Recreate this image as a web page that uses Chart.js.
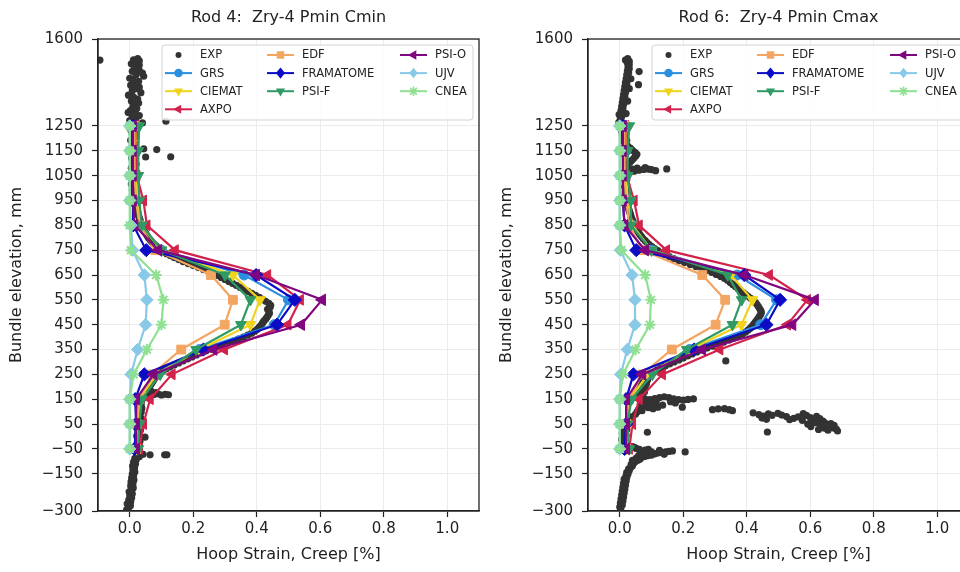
<!DOCTYPE html>
<html><head><meta charset="utf-8">
<script src="https://cdn.jsdelivr.net/npm/chart.js@4/dist/chart.umd.min.js"></script>
<style>
html,body{margin:0;padding:0;width:960px;height:572px;overflow:hidden;background:#fff;}
#c1{position:absolute;left:0;top:0;}
#c2{position:absolute;left:490px;top:0;}
</style></head><body>
<canvas id="c1" width="490" height="572"></canvas>
<canvas id="c2" width="500" height="572"></canvas>
<script>
// ---------------- DATA ----------------
const elevations = [-50, 50, 150, 250, 350, 450, 550, 650, 750, 850, 950, 1050, 1150, 1250];
const xTicks = [0.0, 0.2, 0.4, 0.6, 0.8, 1.0];
const yTicks = [-300, -150, -50, 50, 150, 250, 350, 450, 550, 650, 750, 850, 950, 1050, 1150, 1250, 1600];
const modelNames = ['GRS', 'CIEMAT', 'AXPO', 'EDF', 'FRAMATOME', 'PSI-F', 'PSI-O', 'UJV', 'CNEA'];

// Rod 4: Zry-4 Pmin Cmin
const rod4GRS       = [0.020, 0.025, 0.030, 0.080, 0.220, 0.455, 0.500, 0.360, 0.100, 0.035, 0.025, 0.020, 0.020, 0.020];
const rod4CIEMAT    = [0.020, 0.025, 0.030, 0.085, 0.220, 0.380, 0.410, 0.325, 0.100, 0.035, 0.025, 0.020, 0.020, 0.020];
const rod4AXPO      = [0.030, 0.043, 0.064, 0.133, 0.298, 0.498, 0.537, 0.434, 0.143, 0.054, 0.043, 0.022, 0.018, 0.018];
const rod4EDF       = [0.020, 0.022, 0.030, 0.070, 0.162, 0.299, 0.325, 0.256, 0.080, 0.030, 0.020, 0.015, 0.015, 0.015];
const rod4FRAMATOME = [0.015, 0.020, 0.017, 0.046, 0.232, 0.464, 0.520, 0.398, 0.052, 0.011, 0.010, 0.010, 0.010, 0.010];
const rod4PSIF      = [0.027, 0.030, 0.038, 0.096, 0.209, 0.350, 0.380, 0.300, 0.100, 0.038, 0.030, 0.027, 0.027, 0.030];
const rod4PSIO      = [0.020, 0.020, 0.020, 0.075, 0.264, 0.540, 0.606, 0.398, 0.090, 0.015, 0.010, 0.010, 0.010, 0.010];
const rod4UJV       = [0.000, 0.000, 0.000, 0.004, 0.025, 0.050, 0.054, 0.046, 0.009, 0.004, 0.000, 0.000, 0.000, 0.000];
const rod4CNEA      = [0.000, 0.000, 0.000, 0.012, 0.054, 0.100, 0.106, 0.083, 0.004, 0.000, 0.000, 0.000, 0.000, 0.000];

// Rod 6: Zry-4 Pmin Cmax
const rod6GRS       = [0.020, 0.025, 0.030, 0.090, 0.220, 0.444, 0.494, 0.370, 0.100, 0.040, 0.025, 0.020, 0.020, 0.020];
const rod6CIEMAT    = [0.020, 0.025, 0.030, 0.090, 0.220, 0.383, 0.418, 0.350, 0.100, 0.040, 0.025, 0.020, 0.020, 0.020];
const rod6AXPO      = [0.030, 0.040, 0.061, 0.134, 0.315, 0.528, 0.591, 0.471, 0.147, 0.061, 0.045, 0.022, 0.017, 0.018];
const rod6EDF       = [0.020, 0.022, 0.030, 0.070, 0.164, 0.302, 0.332, 0.260, 0.070, 0.030, 0.020, 0.015, 0.015, 0.015];
const rod6FRAMATOME = [0.015, 0.020, 0.020, 0.043, 0.234, 0.462, 0.505, 0.392, 0.052, 0.015, 0.010, 0.010, 0.010, 0.010];
const rod6PSIF      = [0.030, 0.024, 0.037, 0.103, 0.211, 0.355, 0.384, 0.340, 0.100, 0.035, 0.035, 0.025, 0.025, 0.030];
const rod6PSIO      = [0.020, 0.020, 0.020, 0.071, 0.260, 0.544, 0.615, 0.393, 0.080, 0.015, 0.010, 0.010, 0.010, 0.010];
const rod6UJV       = [0.000, 0.000, 0.000, 0.003, 0.024, 0.048, 0.048, 0.039, 0.002, 0.000, 0.000, 0.000, 0.000, 0.000];
const rod6CNEA      = [0.000, 0.000, 0.000, 0.010, 0.050, 0.095, 0.098, 0.080, 0.005, 0.000, 0.000, 0.000, 0.000, 0.000];

// Experimental points [strain %, elevation mm]
const rod4Exp = [
[-0.010,-295],[-0.004,-287],[0.002,-279],[-0.008,-271],[0.003,-263],[-0.003,-255],[0.006,-247],[0.000,-239],[0.008,-231],[-0.002,-223],[0.006,-215],[0.011,-207],[0.003,-199],[0.010,-191],[0.004,-183],[0.013,-175],[0.006,-167],[0.012,-159],[0.008,-151],[0.016,-143],[0.010,-135],[0.015,-127],[0.009,-119],[0.018,-111],[0.012,-103],[0.020,-95],[0.016,-88],[0.030,-82],[0.022,-77],[0.064,-74],[0.110,-74],[0.117,-74],[0.042,-72],[0.026,-67],[0.020,-60],
[0.028,-52],[0.020,-43],[0.030,-35],[0.024,-27],[0.032,-19],[0.026,-11],[0.048,-3],[0.022,2],[0.030,10],[0.026,18],[0.034,26],[0.022,34],[0.030,42],[0.025,50],[0.033,58],[0.027,66],[0.035,74],[0.028,82],[0.031,90],[0.036,98],[0.030,106],[0.038,114],[0.032,122],[0.036,130],[0.030,138],[0.038,146],[0.034,152],
[0.045,158],[0.060,164],[0.075,168],[0.090,171],[0.100,167],[0.112,170],[0.122,168],[0.082,177],[0.066,184],[0.056,192],[0.060,200],[0.066,208],
[0.070,216],[0.074,224],[0.078,232],[0.083,240],[0.088,248],[0.095,256],[0.104,264],[0.114,272],[0.126,280],[0.140,288],[0.154,296],[0.168,304],[0.182,312],[0.196,320],[0.210,328],[0.224,336],[0.240,344],[0.256,352],[0.274,360],[0.292,368],[0.310,376],[0.326,384],[0.342,392],[0.358,400],[0.372,408],[0.384,416],[0.394,424],[0.402,432],[0.408,440],[0.414,448],[0.418,456],[0.422,464],[0.428,472],[0.432,480],[0.436,488],[0.440,496],[0.438,504],[0.434,512],[0.442,520],[0.444,528],[0.438,536],[0.428,544],[0.418,552],[0.408,560],
[0.396,568],[0.384,576],[0.372,584],[0.360,592],[0.348,600],[0.336,608],[0.324,616],[0.312,624],[0.300,632],[0.288,640],[0.276,648],[0.262,656],[0.248,664],[0.232,672],[0.216,680],[0.200,688],[0.184,696],[0.168,704],[0.154,712],[0.140,720],[0.128,728],[0.116,736],[0.106,744],[0.097,752],[0.089,760],[0.082,768],[0.075,776],[0.069,784],[0.064,792],[0.059,800],[0.055,808],[0.051,816],[0.047,824],[0.044,832],[0.041,840],[0.038,848],[0.036,856],[0.034,864],[0.032,872],[0.030,880],[0.028,888],[0.026,896],[0.025,904],[0.023,912],[0.021,920],
[0.019,928],[0.014,936],[0.021,944],[0.012,952],[0.018,960],[0.010,968],[0.020,976],[0.014,984],[0.008,992],[0.018,1000],[0.012,1008],[0.005,1016],[0.015,1024],[0.010,1032],[0.020,1040],[0.008,1048],[0.015,1056],[0.010,1064],[0.018,1072],[0.005,1080],[0.012,1088],[0.020,1096],[0.010,1104],[0.016,1112],[0.006,1120],[0.014,1128],[0.020,1136],[0.010,1144],[0.004,1152],[0.015,1160],[0.008,1168],[0.018,1176],[0.010,1184],[0.003,1192],[0.014,1200],[0.020,1208],[0.008,1216],[0.015,1224],[0.004,1232],[0.012,1240],[0.018,1248],
[0.050,1125],[0.044,1158],[0.085,1155],[0.129,1126],[0.114,1269],[0.040,1262],
[0.003,1256],[0.012,1264],[0.000,1272],[0.020,1280],[0.008,1288],[0.030,1292],[0.015,1300],[-0.005,1304],[0.002,1312],[0.022,1320],[0.010,1328],[0.018,1336],[0.028,1342],[0.005,1350],[0.025,1358],[0.012,1366],[-0.004,1374],[0.035,1384],[0.008,1392],[0.020,1400],[0.030,1406],[0.003,1414],[0.015,1422],[0.028,1430],[0.010,1438],[0.000,1442],[0.044,1450],[0.020,1456],[0.040,1463],[0.008,1470],[0.030,1474],[0.025,1480],[0.015,1488],[0.030,1495],[0.005,1500],[0.020,1507],[0.030,1512],[0.012,1516],[0.025,1521],
[-0.094,1515]
];

const rod6Exp = [
[0.003,-292],[0.000,-284],[0.008,-276],[0.002,-268],[0.010,-260],[0.004,-252],[0.012,-244],[0.006,-236],[0.014,-228],[0.008,-220],[0.016,-212],[0.010,-204],[0.018,-196],[0.012,-188],[0.020,-180],[0.014,-172],[0.022,-165],[0.020,-158],[0.026,-151],[0.022,-144],[0.030,-137],[0.028,-130],[0.035,-124],[0.040,-118],[0.036,-112],[0.045,-106],[0.050,-100],[0.058,-95],[0.064,-91],[0.052,-87],[0.040,-96],
[0.070,-84],[0.080,-80],[0.090,-77],[0.100,-75],[0.075,-72],[0.110,-70],[0.120,-67],[0.130,-64],[0.145,-62],[0.155,-60],[0.166,-58],[0.206,-62],[0.100,-62],[0.125,-56],[0.090,-52],[0.080,-55],[0.062,-52],[0.052,-48],[0.046,-44],[0.040,-41],[0.140,-72],[0.060,-76],
[0.020,-36],[0.010,-28],[0.016,-20],[0.006,-12],[0.013,-4],[0.020,4],[0.008,12],[0.016,20],[0.022,28],[0.010,36],[0.018,44],[0.012,52],[0.087,17],[0.465,18],
[0.030,60],[0.035,70],[0.040,80],[0.050,90],[0.055,100],
[0.070,155],[0.080,150],[0.095,148],[0.110,152],[0.125,156],[0.140,160],[0.085,140],[0.065,132],[0.075,122],[0.090,116],[0.105,112],[0.120,118],[0.135,126],[0.060,110],[0.070,104],[0.100,135],[0.115,140],
[0.155,156],[0.170,151],[0.185,148],[0.200,146],[0.215,149],[0.232,151],[0.197,118],[0.160,140],[0.175,135],
[0.292,108],[0.310,111],[0.330,112],[0.345,108],[0.355,104],
[0.420,95],[0.438,88],[0.452,82],[0.468,91],[0.480,85],[0.498,93],[0.510,86],[0.525,80],[0.448,74],[0.462,69],
[0.535,68],[0.548,73],[0.562,79],[0.578,92],[0.588,85],[0.600,76],[0.608,68],[0.620,81],[0.630,72],[0.640,62],[0.646,55],[0.652,48],[0.662,41],[0.672,35],[0.682,30],[0.656,25],[0.636,45],[0.620,55],[0.602,40],[0.592,50],[0.626,28],[0.642,35],[0.686,22],[0.612,60],[0.575,65],[0.665,52],[0.675,45],[0.650,32],
[0.334,304],
[0.072,165],[0.056,172],[0.078,180],[0.060,188],[0.080,196],[0.066,204],[0.084,212],[0.072,220],[0.088,228],[0.078,236],[0.094,244],[0.100,252],[0.108,260],[0.118,268],[0.130,276],[0.143,284],[0.157,292],[0.171,300],[0.186,308],[0.200,316],[0.214,324],[0.228,332],[0.243,340],[0.258,348],[0.275,356],[0.292,364],[0.310,372],[0.328,380],[0.345,388],[0.360,396],[0.374,404],[0.386,412],[0.396,420],[0.404,428],[0.411,436],[0.417,444],[0.422,452],[0.427,460],[0.432,468],[0.436,476],[0.440,484],[0.444,492],[0.446,500],[0.444,508],[0.440,516],[0.436,524],[0.432,532],[0.427,540],[0.420,548],[0.412,556],[0.404,564],[0.396,572],[0.388,580],[0.380,588],[0.372,596],[0.364,604],[0.356,612],[0.348,620],[0.340,628],[0.330,636],[0.318,644],[0.304,652],[0.290,660],[0.274,668],[0.258,676],[0.240,684],[0.222,692],[0.204,700],[0.186,708],[0.170,716],[0.156,724],[0.143,732],[0.131,740],[0.120,748],[0.110,756],[0.101,764],[0.093,772],[0.086,780],[0.080,788],[0.074,796],[0.069,804],[0.064,812],[0.060,820],[0.056,828],[0.052,836],[0.049,844],[0.046,852],[0.043,860],[0.041,868],[0.038,876],[0.036,884],[0.034,892],[0.032,900],[0.030,908],[0.028,916],[0.026,924],[0.024,932],[0.023,940],[0.021,948],[0.020,956],
[0.020,965],[0.025,973],[0.018,981],[0.024,989],[0.020,997],[0.016,1005],[0.022,1013],[0.018,1021],[0.020,1029],[0.016,1037],[0.022,1045],[0.018,1053],
[0.030,1062],[0.045,1068],[0.060,1072],[0.075,1075],[0.090,1076],[0.100,1074],[0.113,1070],[0.148,1077],[0.055,1080],[0.080,1082],[0.040,1076],
[0.020,1088],[0.025,1096],[0.032,1104],[0.038,1112],[0.044,1120],[0.050,1128],[0.054,1136],[0.048,1144],[0.040,1152],[0.034,1160],[0.026,1168],[0.020,1176],[0.015,1184],[0.022,1192],[0.012,1200],[0.018,1208],[0.008,1216],[0.014,1224],[0.005,1232],[0.010,1240],[0.002,1248],[0.000,1256],[-0.003,1264],[0.004,1272],
[0.002,1280],[0.006,1288],[-0.002,1296],[0.020,1300],[0.008,1304],[0.004,1312],[0.010,1320],[0.006,1328],[0.012,1336],[0.008,1344],[0.025,1350],[0.014,1352],[0.010,1360],[0.016,1368],[0.012,1376],[0.018,1384],[0.014,1392],[0.030,1400],[0.020,1400],[0.016,1408],[0.022,1416],[0.018,1424],[0.024,1432],[0.035,1440],[0.020,1440],[0.026,1448],[0.022,1456],[0.028,1464],[0.024,1472],[0.030,1480],[0.026,1488],[0.030,1496],[0.024,1504],[0.030,1510],[0.018,1515],[0.025,1521],[0.061,1469],[0.059,1416]
];

// ---------------- STYLE ----------------
const FONT = "'DejaVu Sans', 'Liberation Sans', sans-serif";
const TEXT = '#222';
const EXP_COLOR = '#333333';
const modelStyles = {
  'GRS':       {color: '#2b8fe0', style: 'circle',   rot: 0,   r: 5.0},
  'CIEMAT':    {color: '#f2d31b', style: 'triangle', rot: 180, r: 6.2},
  'AXPO':      {color: '#d1224c', style: 'triangle', rot: 270, r: 6.2},
  'EDF':       {color: '#f3a562', style: 'rect',     rot: 0,   r: 6.2},
  'FRAMATOME': {color: '#0b0bc6', style: 'rectRot',  rot: 0,   r: 6.6},
  'PSI-F':     {color: '#2f9a63', style: 'triangle', rot: 180, r: 6.2},
  'PSI-O':     {color: '#80067f', style: 'triangle', rot: 270, r: 6.6},
  'UJV':       {color: '#88c9e8', style: 'rectRot',  rot: 0,   r: 6.2},
  'CNEA':      {color: '#8fe090', style: 'star',     rot: 0,   r: 5.6}
};
const legendColumns = [['EXP', 'GRS', 'CIEMAT', 'AXPO'], ['EDF', 'FRAMATOME', 'PSI-F'], ['PSI-O', 'UJV', 'CNEA']];

function drawMarker(ctx, name, x, y) {
  ctx.save();
  if (name === 'EXP') {
    ctx.fillStyle = EXP_COLOR;
    ctx.beginPath(); ctx.arc(x, y, 3, 0, Math.PI * 2); ctx.fill();
    ctx.restore(); return;
  }
  const s = modelStyles[name];
  ctx.translate(x, y); ctx.rotate(s.rot * Math.PI / 180);
  ctx.fillStyle = s.color; ctx.strokeStyle = s.color; ctx.lineWidth = 1.6;
  const r = s.r * 0.85;
  ctx.beginPath();
  if (s.style === 'circle') { ctx.arc(0, 0, r, 0, Math.PI * 2); ctx.fill(); }
  else if (s.style === 'rect') { const h = r / Math.SQRT2; ctx.rect(-h, -h, 2 * h, 2 * h); ctx.fill(); }
  else if (s.style === 'rectRot') { ctx.moveTo(0, -r); ctx.lineTo(r * 0.8, 0); ctx.lineTo(0, r); ctx.lineTo(-r * 0.8, 0); ctx.closePath(); ctx.fill(); }
  else if (s.style === 'triangle') { ctx.moveTo(0, -r); ctx.lineTo(r * 0.866, r * 0.5); ctx.lineTo(-r * 0.866, r * 0.5); ctx.closePath(); ctx.fill(); }
  else if (s.style === 'star') {
    for (let k = 0; k < 4; k++) { const a = k * Math.PI / 4; ctx.moveTo(Math.cos(a) * r, Math.sin(a) * r); ctx.lineTo(-Math.cos(a) * r, -Math.sin(a) * r); }
    ctx.stroke();
  }
  ctx.restore();
}

const decor = {
  id: 'decor',
  afterDraw(chart, args, opts) {
    const ctx = chart.ctx, a = chart.chartArea;
    ctx.save();
    ctx.strokeStyle = TEXT; ctx.lineWidth = 1.3;
    ctx.strokeRect(a.left, a.top, a.right - a.left, a.bottom - a.top);
    ctx.fillStyle = TEXT; ctx.font = '16px ' + FONT; ctx.textAlign = 'center'; ctx.textBaseline = 'middle';
    ctx.fillText(opts.title, (a.left + a.right) / 2, 18);
    const bx = a.left + 64, by = a.top + 6, bw = 311, bh = 75;
    ctx.beginPath();
    if (ctx.roundRect) ctx.roundRect(bx, by, bw, bh, 3); else ctx.rect(bx, by, bw, bh);
    ctx.fillStyle = 'rgba(255,255,255,0.85)'; ctx.fill();
    ctx.strokeStyle = '#d2d2d2'; ctx.lineWidth = 1; ctx.stroke();
    const colX = [3, 105, 238];
    ctx.font = '11.5px ' + FONT; ctx.textAlign = 'left'; ctx.textBaseline = 'middle';
    legendColumns.forEach((col, ci) => {
      col.forEach((name, ri) => {
        const lx = bx + colX[ci], ly = by + 10 + ri * 18.1;
        if (name !== 'EXP') {
          ctx.strokeStyle = modelStyles[name].color; ctx.lineWidth = 2;
          ctx.beginPath(); ctx.moveTo(lx, ly); ctx.lineTo(lx + 27, ly); ctx.stroke();
        }
        drawMarker(ctx, name, lx + 13.5, ly);
        ctx.fillStyle = TEXT;
        ctx.fillText(name, lx + 35, ly + 0.5);
      });
    });
    ctx.restore();
  }
};

function buildDatasets(exp, models) {
  const ds = [{
    label: 'EXP',
    data: exp.map(p => ({x: p[0], y: p[1]})),
    showLine: false, pointRadius: 3.6, pointBackgroundColor: EXP_COLOR, pointBorderWidth: 0,
    pointStyle: 'circle', order: 100
  }];
  modelNames.forEach((name, i) => {
    const s = modelStyles[name];
    ds.push({
      label: name,
      data: models[i].map((v, k) => ({x: v, y: elevations[k]})),
      showLine: true, borderColor: s.color, borderWidth: 2.2, tension: 0, fill: false,
      pointStyle: s.style, pointRotation: s.rot,
      pointRadius: s.r,
      pointBackgroundColor: s.color, pointBorderColor: s.color,
      pointBorderWidth: s.style === 'star' ? 2 : 1,
      order: 20 - i
    });
  });
  return ds;
}

function makeOptions(title, canvasW, rightEdge) {
  return {
    responsive: false, animation: false, events: [],
    layout: {padding: {left: 0, top: 39, right: canvasW - rightEdge, bottom: 0}, autoPadding: false},
    plugins: {legend: {display: false}, tooltip: {enabled: false}, decor: {title: title}},
    scales: {
      x: {
        type: 'linear', min: -0.1, max: 1.1,
        afterBuildTicks: s => { s.ticks = xTicks.map(v => ({value: v})); },
        afterFit: s => { s.height = 61; },
        ticks: {callback: v => Number(v).toFixed(1), font: {family: FONT, size: 15}, color: TEXT, padding: 3, maxRotation: 0, autoSkip: false},
        grid: {color: '#ececec', lineWidth: 1, tickLength: 6, tickColor: TEXT, tickWidth: 1.2},
        border: {display: true, color: TEXT, width: 1.3},
        title: {display: true, text: 'Hoop Strain, Creep [%]', font: {family: FONT, size: 16}, color: TEXT, padding: {top: 0, bottom: 8}}
      },
      y: {
        type: 'linear', min: -300, max: 1600,
        afterBuildTicks: s => { s.ticks = yTicks.map(v => ({value: v})); },
        afterFit: s => { s.width = 98; },
        ticks: {callback: v => v < 0 ? '\u2212' + Math.abs(v) : String(v), font: {family: FONT, size: 15}, color: TEXT, padding: 9, autoSkip: false},
        grid: {color: '#ececec', lineWidth: 1, tickLength: 6, tickColor: TEXT, tickWidth: 1.2},
        border: {display: true, color: TEXT, width: 1.3},
        title: {display: true, text: 'Bundle elevation, mm', font: {family: FONT, size: 16}, color: TEXT, padding: {top: 7, bottom: 0}}
      }
    }
  };
}

new Chart(document.getElementById('c1'), {
  type: 'scatter',
  data: {datasets: buildDatasets(rod4Exp, [rod4GRS, rod4CIEMAT, rod4AXPO, rod4EDF, rod4FRAMATOME, rod4PSIF, rod4PSIO, rod4UJV, rod4CNEA])},
  options: makeOptions('Rod 4:  Zry-4 Pmin Cmin', 490, 479),
  plugins: [decor]
});
new Chart(document.getElementById('c2'), {
  type: 'scatter',
  data: {datasets: buildDatasets(rod6Exp, [rod6GRS, rod6CIEMAT, rod6AXPO, rod6EDF, rod6FRAMATOME, rod6PSIF, rod6PSIO, rod6UJV, rod6CNEA])},
  options: makeOptions('Rod 6:  Zry-4 Pmin Cmax', 500, 479),
  plugins: [decor]
});
</script></body></html>
